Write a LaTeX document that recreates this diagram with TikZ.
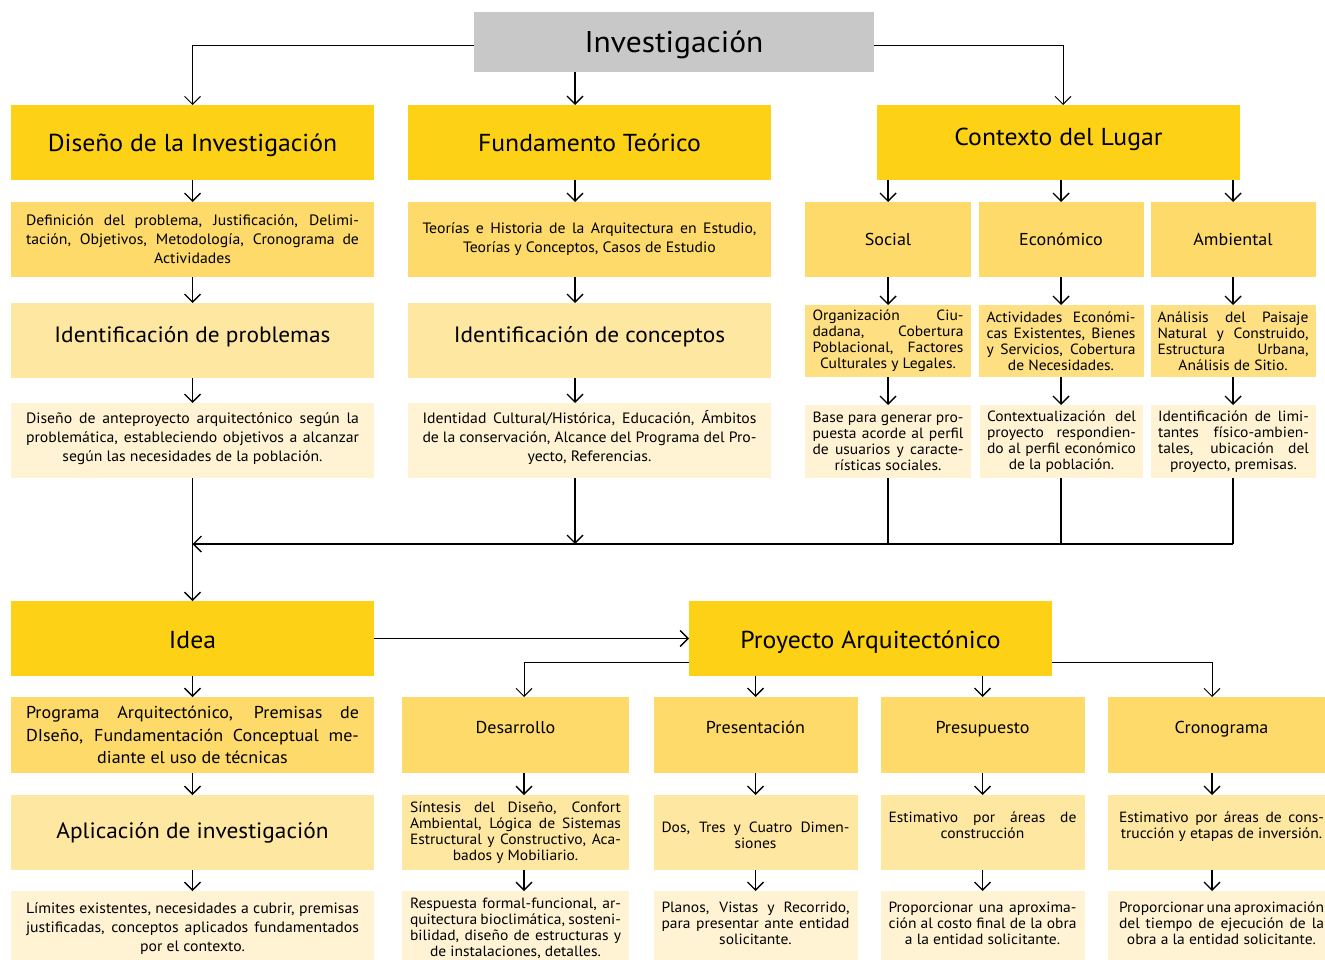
\documentclass[tikz,border=0pt]{standalone}
\usepackage{fontspec}
\setmainfont[FakeStretch=1.05]{PT Sans}
\usetikzlibrary{arrows.meta}
\definecolor{cgray}{HTML}{C8C8C8}
\definecolor{yA}{HTML}{FDD115}
\definecolor{yB}{HTML}{FDDA6A}
\definecolor{yC}{HTML}{FEE7A0}
\definecolor{yD}{HTML}{FFF3D3}
\definecolor{yE}{HTML}{FEDF82}
\newcommand\jl[2]{\makebox[#1pt][s]{#2}}
\tikzset{
  bx/.style={inner sep=0pt, outer sep=0pt, draw=none, align=center, anchor=center},
  big/.style={font=\fontsize{24.5}{30}\selectfont, text height=22pt, text depth=3pt},
  mid/.style={font=\fontsize{22.2}{26}\selectfont},
  hdr/.style={font=\fontsize{17.2}{22}\selectfont},
  sm/.style={font=\fontsize{15}{19}\selectfont},
  xs/.style={font=\fontsize{14.8}{16}\selectfont},
  arr/.style={-{Straight Barb[length=8pt,width=16pt]}, line width=1.4pt},
  tarr/.style={-{Straight Barb[length=8pt,width=16pt]}, line width=1pt},
  ln/.style={line width=1.4pt},
}
\begin{document}
\begin{tikzpicture}[x=1pt,y=-1pt]
\useasboundingbox (0,0) rectangle (1325,960);
\clip (0,0) rectangle (1325,960);
% top
\node[bx, fill=cgray, minimum width=400pt, minimum height=60pt, font=\fontsize{30}{36}\selectfont, text height=24pt, text depth=2pt] (inv) at (674,42) {Investigación};
% row 1
\node[bx, big, fill=yA, minimum width=363pt, minimum height=75pt] (dis) at (192.5,142.5) {Diseño de la Investigación};
\node[bx, big, fill=yA, minimum width=363pt, minimum height=75pt] (fun) at (589.5,142.5) {Fundamento Teórico};
\node[bx, big, fill=yA, minimum width=363pt, minimum height=75pt, text height=22pt, text depth=15pt] (ctx) at (1058.5,142.5) {Contexto del Lugar};
% row 2
\node[bx, sm, fill=yB, minimum width=363pt, minimum height=75pt] (def) at (192.5,239.5)
 {\jl{333}{Definición del problema, Justificación, Delimi-}\\
  \jl{333}{tación, Objetivos, Metodología, Cronograma de}\\
  Actividades};
\node[bx, sm, fill=yB, minimum width=363pt, minimum height=75pt] (teo) at (589.5,239.5)
 {\jl{334}{Teorías e Historia de la Arquitectura en Estudio,}\\
  Teorías y Conceptos, Casos de Estudio};
\node[bx, hdr, fill=yB, minimum width=166pt, minimum height=75pt] (soc) at (888,239.5) {Social};
\node[bx, hdr, fill=yB, minimum width=165pt, minimum height=75pt] (eco) at (1061,239.5) {Económico};
\node[bx, hdr, fill=yB, minimum width=165pt, minimum height=75pt] (amb) at (1233,239.5) {Ambiental};
% row 3
\node[bx, mid, fill=yC, minimum width=363pt, minimum height=75pt, text height=20pt, text depth=17pt] (ipr) at (192.5,340.5) {Identificación de problemas};
\node[bx, mid, fill=yC, minimum width=363pt, minimum height=75pt, text height=20pt, text depth=17pt] (ico) at (589.5,340.5) {Identificación de conceptos};
\node[bx, xs, fill=yE, minimum width=166pt, minimum height=72pt] (org) at (888,341)
 {\jl{151}{Organización Ciu-}\\ \jl{151}{dadana, Cobertura}\\ \jl{151}{Poblacional, Factores}\\ Culturales y Legales.};
\node[bx, xs, fill=yE, minimum width=165pt, minimum height=72pt] (act) at (1061,341)
 {\jl{149}{Actividades Económi-}\\ \jl{149}{cas Existentes, Bienes}\\ \jl{149}{y Servicios, Cobertura}\\ de Necesidades.};
\node[bx, xs, fill=yE, minimum width=165pt, minimum height=72pt] (ana) at (1233,341)
 {\jl{151}{Análisis del Paisaje}\\ \jl{151}{Natural y Construido,}\\ \jl{151}{Estructura Urbana,}\\ Análisis de Sitio.};
% row 4
\node[bx, sm, fill=yD, minimum width=363pt, minimum height=75pt, text height=49pt, text depth=8pt] (ant) at (192.5,440.5)
 {\jl{333}{Diseño de anteproyecto arquitectónico según la}\\
  \jl{333}{problemática, estableciendo objetivos a alcanzar}\\
  según las necesidades de la población.};
\node[bx, sm, fill=yD, minimum width=363pt, minimum height=75pt, text height=49pt, text depth=8pt] (idn) at (589.5,440.5)
 {\jl{334}{Identidad Cultural/Histórica, Educación, Ámbitos}\\
  \jl{334}{de la conservación, Alcance del Programa del Pro-}\\
  yecto, Referencias.};
\node[bx, xs, fill=yD, minimum width=166pt, minimum height=73pt] (bas) at (888,441.5)
 {\jl{151}{Base para generar pro-}\\ \jl{151}{puesta acorde al perfil}\\ \jl{151}{de usuarios y caracte-}\\ rísticas sociales.};
\node[bx, xs, fill=yD, minimum width=163pt, minimum height=73pt] (ctz) at (1061.5,441.5)
 {\jl{149}{Contextualización del}\\ \jl{149}{proyecto respondien-}\\ \jl{149}{do al perfil económico}\\ de la población.};
\node[bx, xs, fill=yD, minimum width=165pt, minimum height=73pt] (lmt) at (1233.5,441.5)
 {\jl{151}{Identificación de limi-}\\ \jl{151}{tantes físico-ambien-}\\ \jl{151}{tales, ubicación del}\\ proyecto, premisas.};
% row 5
\node[bx, big, fill=yA, minimum width=363pt, minimum height=75pt] (idea) at (192.5,638.5) {Idea};
\node[bx, big, fill=yA, minimum width=363pt, minimum height=75pt] (proy) at (870.5,638.5) {Proyecto Arquitectónico};
% row 6
\node[bx, fill=yB, minimum width=363pt, minimum height=76pt, font=\fontsize{17.2}{22.5}\selectfont] (prog) at (192.5,735)
 {\jl{333}{Programa Arquitectónico, Premisas de}\\
  \jl{333}{DIseño, Fundamentación Conceptual me-}\\
  diante el uso de técnicas};
\node[bx, hdr, fill=yB, minimum width=227pt, minimum height=76pt, text height=13pt, text depth=16pt] (des) at (515.5,735) {Desarrollo};
\node[bx, hdr, fill=yB, minimum width=204pt, minimum height=76pt, text height=13pt, text depth=16pt] (pre) at (755.5,735) {Presentación};
\node[bx, hdr, fill=yB, minimum width=204pt, minimum height=76pt, text height=13pt, text depth=16pt] (pst) at (982.5,735) {Presupuesto};
\node[bx, hdr, fill=yB, minimum width=228pt, minimum height=76pt, text height=13pt, text depth=16pt] (cro) at (1221.5,735) {Cronograma};
% row 7
\node[bx, mid, fill=yC, minimum width=363pt, minimum height=75pt, text height=20pt, text depth=9pt] (apl) at (192.5,832.5) {Aplicación de investigación};
\node[bx, xs, fill=yC, minimum width=227pt, minimum height=75pt] (sin) at (515.5,832.5)
 {\jl{211}{Síntesis del Diseño, Confort}\\ \jl{211}{Ambiental, Lógica de Sistemas}\\ \jl{211}{Estructural y Constructivo, Aca-}\\ bados y Mobiliario.};
\node[bx, xs, fill=yC, minimum width=204pt, minimum height=75pt, text height=37pt, text depth=5pt] (dos) at (755.5,832.5)
 {\jl{188}{Dos, Tres y Cuatro Dimen-}\\ siones};
\node[bx, xs, fill=yC, minimum width=204pt, minimum height=75pt, text height=27pt, text depth=15pt] (est) at (982.5,832.5)
 {\jl{188}{Estimativo por áreas de}\\ construcción};
\node[bx, xs, fill=yC, minimum width=228pt, minimum height=75pt, text height=27pt, text depth=15pt] (esb) at (1221.5,832.5)
 {\jl{205}{Estimativo por áreas de cons-}\\ trucción y etapas de inversión.};
% row 8
\node[bx, sm, fill=yD, minimum width=363pt, minimum height=75pt] (lim) at (192.5,928.5)
 {\jl{333}{Límites existentes, necesidades a cubrir, premisas}\\
  \jl{333}{justificadas, conceptos aplicados fundamentados}\\
  por el contexto.};
\node[bx, xs, fill=yD, minimum width=227pt, minimum height=75pt] (res) at (515.5,928.5)
 {\jl{211}{Respuesta formal-funcional, ar-}\\ \jl{211}{quitectura bioclimática, sosteni-}\\ \jl{211}{bilidad, diseño de estructuras y}\\ de instalaciones, detalles.};
\node[bx, xs, fill=yD, minimum width=204pt, minimum height=75pt, text height=43pt, text depth=11pt] (pla) at (755.5,928.5)
 {\jl{188}{Planos, Vistas y Recorrido,}\\ \jl{188}{para presentar ante entidad}\\ solicitante.};
\node[bx, xs, fill=yD, minimum width=204pt, minimum height=75pt, text height=43pt, text depth=11pt] (prp) at (982.5,928.5)
 {\jl{188}{Proporcionar una aproxima-}\\ \jl{188}{ción al costo final de la obra}\\ a la entidad solicitante.};
\node[bx, xs, fill=yD, minimum width=228pt, minimum height=75pt, text height=43pt, text depth=11pt] (prt) at (1221.5,928.5)
 {\jl{205}{Proporcionar una aproximación}\\ \jl{205}{del tiempo de ejecución de la}\\ obra a la entidad solicitante.};
% helper coordinates
\coordinate (c575) at (575,0);
\coordinate (c524) at (524,0);
\coordinate (c1063) at (1063,0);
\coordinate (c1212) at (1212,0);
\coordinate (hl) at (0,544);
\coordinate (py) at (0,662);
% connectors top
\draw[tarr] ([yshift=-4pt]inv.west) -| (dis.north);
\draw[tarr] ([yshift=-4pt]inv.east) -| (ctx.north -| c1063);
\draw[arr] (inv.south -| c575) -- (fun.north -| c575);
% column 1
\draw[arr] (dis.south) -- (def.north);
\draw[arr] (def.south) -- (ipr.north);
\draw[arr] (ipr.south) -- (ant.north);
\draw[arr] (ant.south) -- (idea.north);
% column 2
\draw[arr] (fun.south -| c575) -- (teo.north -| c575);
\draw[arr] (teo.south -| c575) -- (ico.north -| c575);
\draw[arr] (ico.south -| c575) -- (idn.north -| c575);
\draw[arr] (idn.south -| c575) -- (hl -| c575);
% column 3
\draw[arr] (ctx.south -| soc.north) -- (soc.north);
\draw[arr] (ctx.south -| eco.north) -- (eco.north);
\draw[arr] (ctx.south -| amb.north) -- (amb.north);
\draw[arr] (soc.south) -- (org.north -| soc.south);
\draw[arr] (eco.south) -- (act.north -| eco.south);
\draw[arr] (amb.south) -- (ana.north -| amb.south);
\draw[arr] (org.south -| soc.south) -- (bas.north -| soc.south);
\draw[arr] (act.south -| eco.south) -- (ctz.north -| eco.south);
\draw[arr] (ana.south -| amb.south) -- (lmt.north -| amb.south);
\draw[ln] (bas.south -| soc.south) -- (hl -| soc.south);
\draw[ln] (ctz.south -| eco.south) -- (hl -| eco.south);
\draw[ln] (lmt.south -| amb.south) -- (hl -| amb.south);
\draw[arr] (hl -| amb.south) -- (hl -| ant.south);
% idea
\draw[arr] (idea.east) -- (proy.west);
\draw[arr] (idea.south) -- (prog.north);
\draw[arr] (prog.south) -- (apl.north);
\draw[arr] (apl.south) -- (lim.north);
% proyecto
\draw[tarr] (proy.west |- py) -| (des.north -| c524);
\draw[tarr] (proy.east |- py) -| (cro.north -| c1212);
\draw[arr] (proy.south -| pre.north) -- (pre.north);
\draw[arr] (proy.south -| pst.north) -- (pst.north);
\draw[arr] (des.south -| c524) -- (sin.north -| c524);
\draw[arr] (sin.south -| c524) -- (res.north -| c524);
\draw[arr] (pre.south) -- (dos.north);
\draw[arr] (dos.south) -- (pla.north);
\draw[arr] (pst.south) -- (est.north);
\draw[arr] (est.south) -- (prp.north);
\draw[arr] (cro.south -| c1212) -- (esb.north -| c1212);
\draw[arr] (esb.south -| c1212) -- (prt.north -| c1212);
\end{tikzpicture}
\end{document}
